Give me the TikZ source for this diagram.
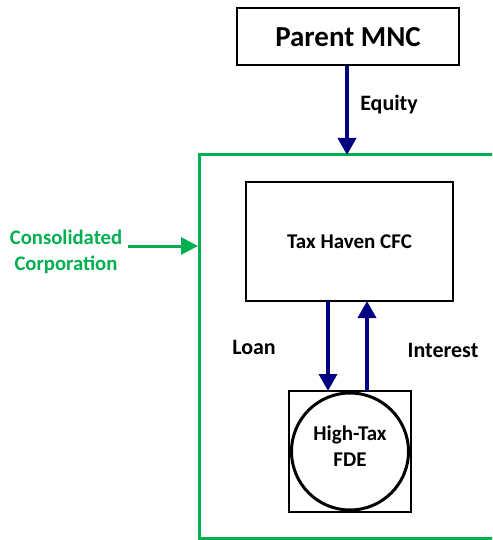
\documentclass[tikz,border=0pt]{standalone}
\usepackage{fontspec}
\setmainfont{Carlito}
\usetikzlibrary{arrows.meta}
\definecolor{ogreen}{HTML}{00B050}
\definecolor{navyb}{HTML}{000080}
\begin{document}
\begin{tikzpicture}[x=1pt,y=-1pt,
  boxnode/.style={draw=black,line width=2pt,inner sep=0pt,font=\bfseries},
  lbl/.style={font=\fontsize{22}{26}\selectfont\bfseries,inner sep=0pt},
  flow/.style={draw=navyb,line width=3.5pt,-{Triangle[width=18pt,length=17pt]}},
  gflow/.style={draw=ogreen,line width=3pt,-{Triangle[width=17pt,length=17pt]}}]
\useasboundingbox (0,0) rectangle (492,540);
\clip (0,0) rectangle (492,540);
% consolidated frame
\draw[ogreen,line width=3pt] (199,155) rectangle (520,538.5);
% nodes
\node[boxnode,minimum width=222pt,minimum height=57pt,font=\fontsize{29}{32}\selectfont\bfseries] (parent) at (348,37) {Parent MNC};
\node[boxnode,minimum width=207pt,minimum height=119pt,font=\fontsize{21}{24}\selectfont\bfseries] (cfc) at (349.5,241.5) {Tax Haven CFC};
\node[draw=black,line width=1.6pt,minimum width=122pt,minimum height=121pt,inner sep=0pt] (sq) at (350,451.5) {};
\node[draw=black,line width=3pt,circle,minimum size=117pt,inner sep=0pt] (fde) at (350,451.5) {};
\node[inner sep=0pt,align=center,font=\fontsize{21}{26}\selectfont\bfseries] (fdetxt) at (350,446) {High-Tax\\FDE};
% coordinates
\coordinate (eqs) at (347,66);
\coordinate (eqe) at (347,155);
\coordinate (loans) at (328,301);
\coordinate (loane) at (328,391);
\coordinate (ints) at (367,391);
\coordinate (inte) at (367,301);
\coordinate (gs) at (128,246);
\coordinate (ge) at (198,246);
% arrows
\draw[flow] (eqs) -- (eqe);
\draw[flow] (loans) -- (loane);
\draw[flow] (ints) -- (inte);
\draw[gflow] (gs) -- (ge);
% labels
\node[lbl] (eq) at (389,105) {Equity};
\node[lbl] (loan) at (254,347) {Loan};
\node[lbl] (int) at (443,350) {Interest};
\node[lbl,text=ogreen,align=center,font=\fontsize{20.7}{26}\selectfont\bfseries] (cons) at (66,252) {Consolidated\\Corporation};
\end{tikzpicture}
\end{document}
